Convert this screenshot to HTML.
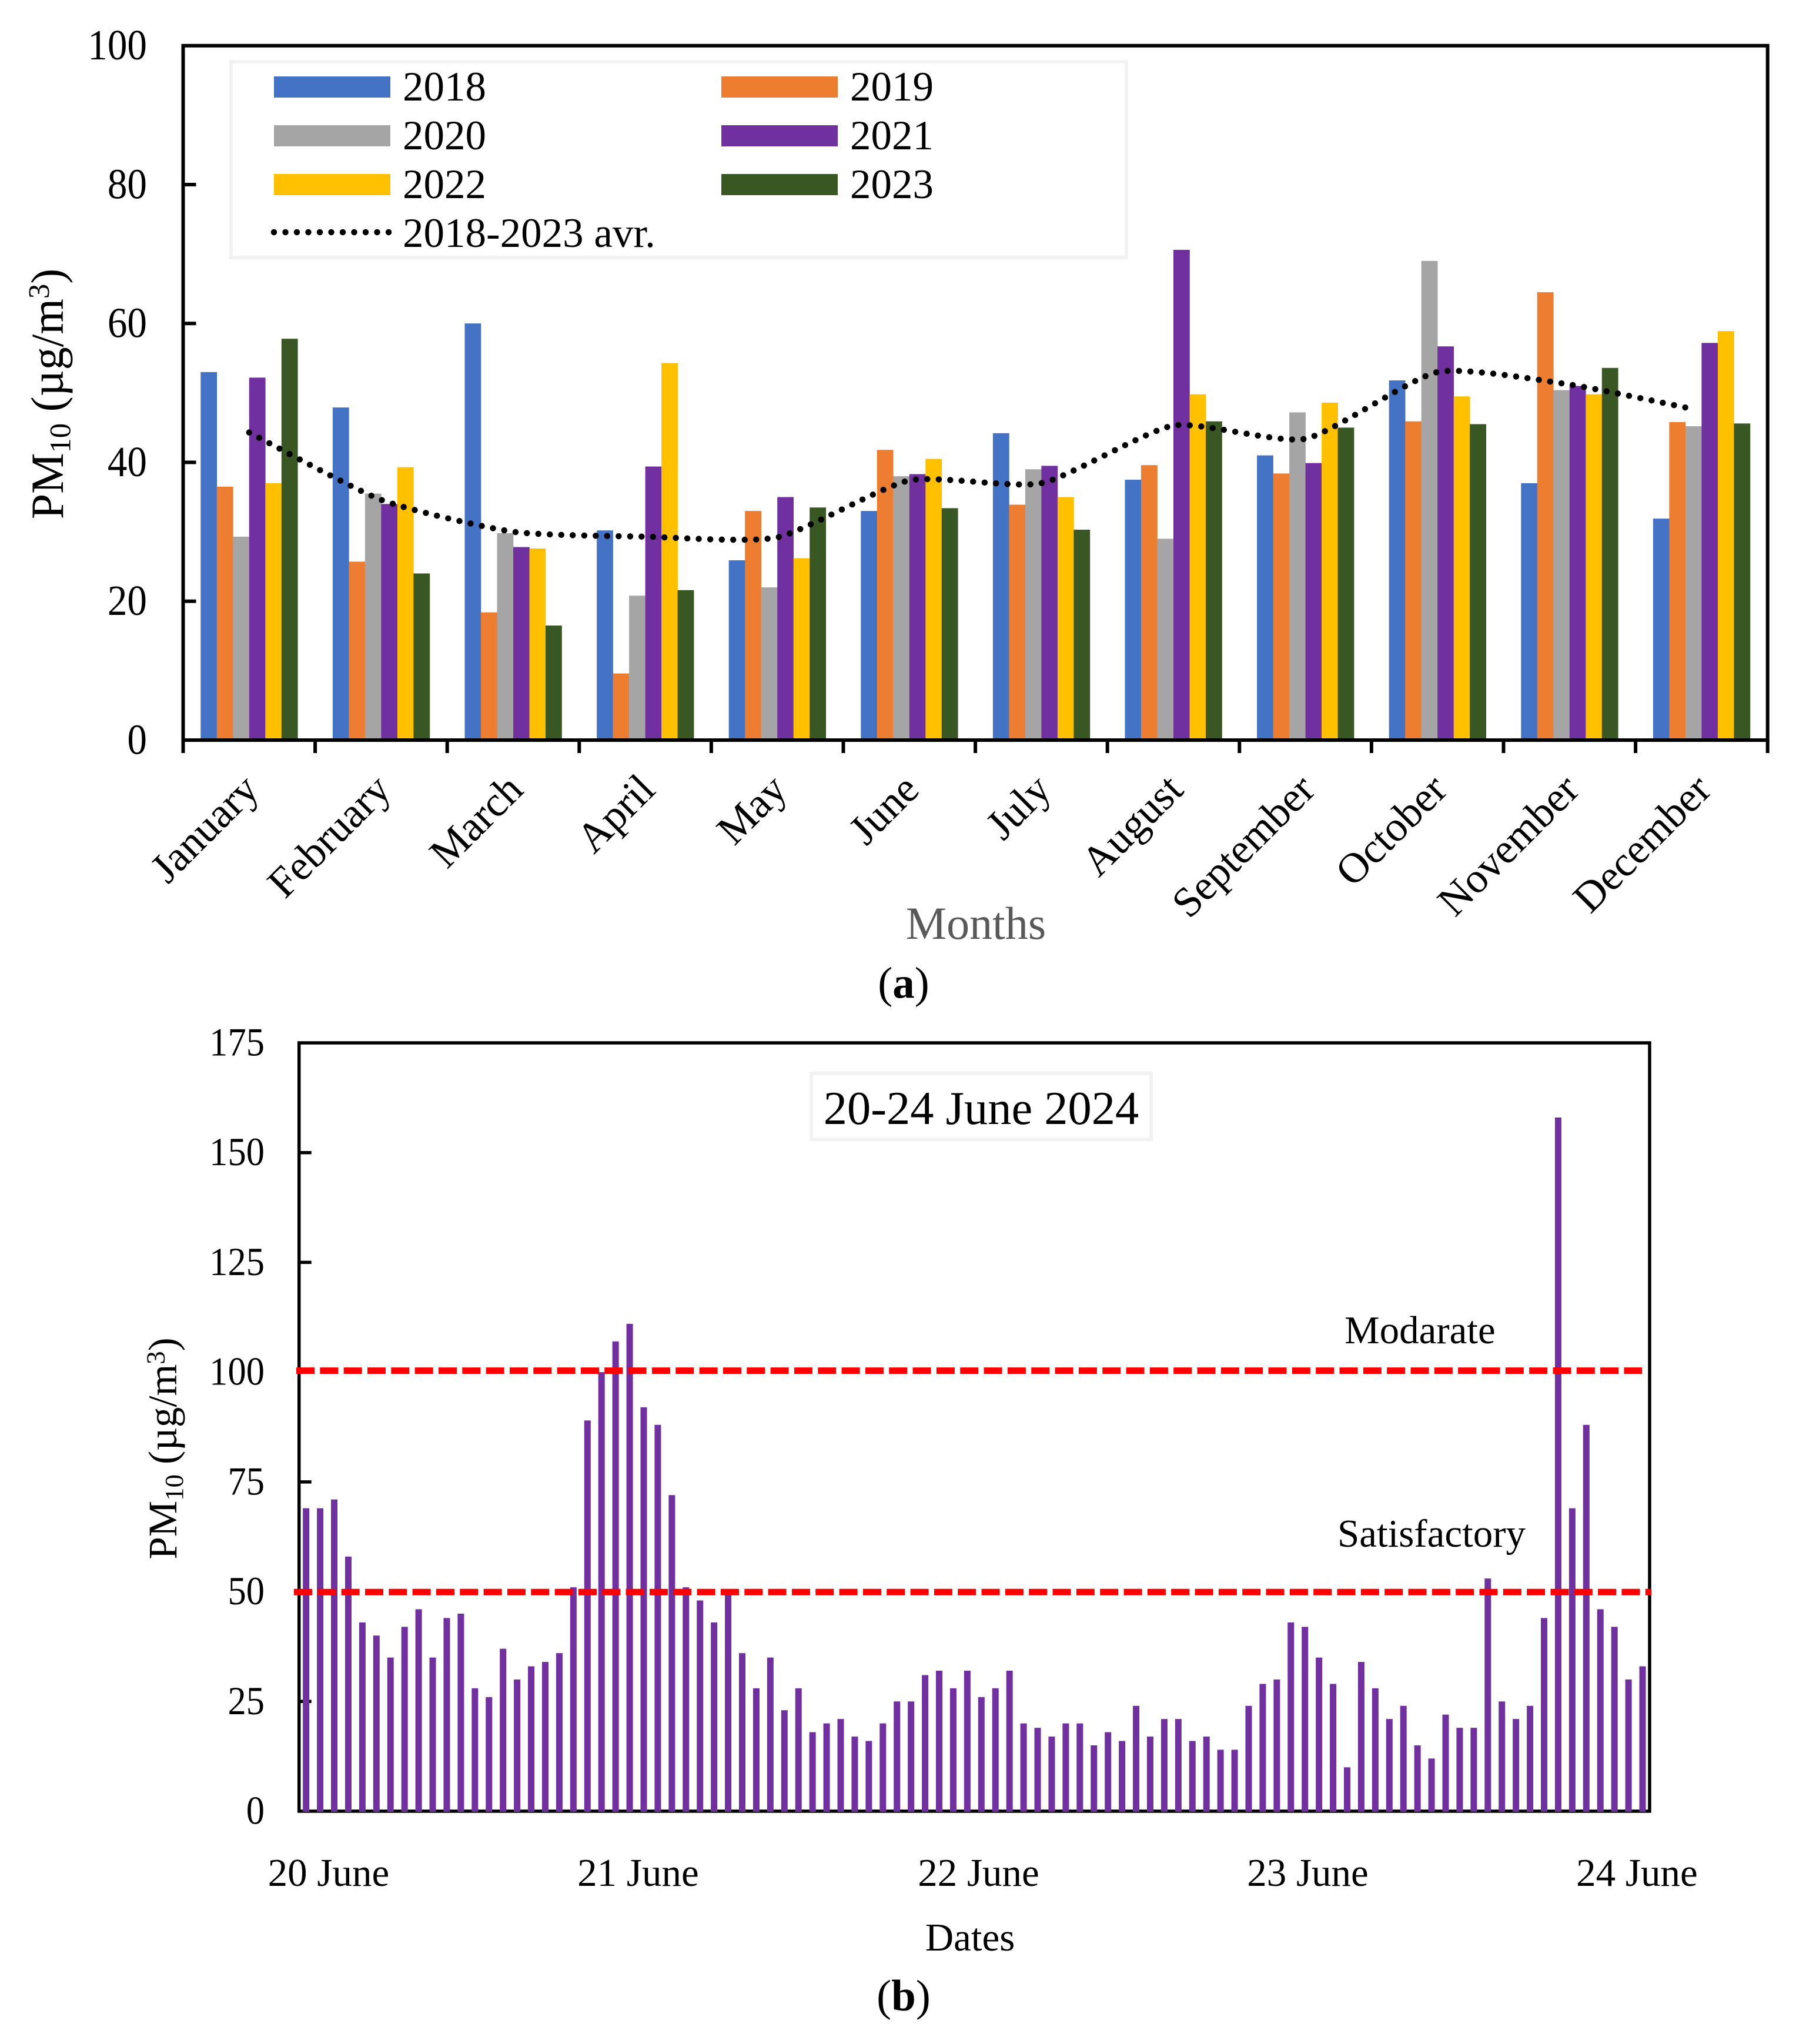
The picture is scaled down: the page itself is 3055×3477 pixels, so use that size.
<!DOCTYPE html>
<html lang="en">
<head>
<meta charset="utf-8">
<title>PM10 monthly averages and 20-24 June 2024 hourly values</title>
<style>
html,body{margin:0;padding:0;background:#fff;width:3055px;height:3477px;overflow:hidden}
svg{display:block}
text{font-family:"Liberation Serif","Times New Roman",serif;fill:#000}
</style>
</head>
<body>
<svg id="figure" xmlns="http://www.w3.org/2000/svg" width="3055" height="3477" viewBox="0 0 3055 3477">
  <rect x="0" y="0" width="3055" height="3477" fill="#fff"/>
  <g id="chartA"></g>
  <g id="chartB"></g>
</svg>
<script>
// ---------- Chart (a) data ----------
const months = ["January","February","March","April","May","June","July","August","September","October","November","December"];
const yearNames = ["2018","2019","2020","2021","2022","2023"];
const values2018 = [53,47.9,60,30.2,25.9,33,44.2,37.5,41,51.8,37,31.9];
const values2019 = [36.5,25.7,18.4,9.6,33,41.8,33.9,39.6,38.4,45.9,64.5,45.8];
const values2020 = [29.3,35.5,29.8,20.8,22,38,39,29,47.2,69,50.4,45.2];
const values2021 = [52.2,34,27.8,39.4,35,38.3,39.5,70.6,39.9,56.7,51,57.2];
const values2022 = [37,39.3,27.6,54.3,26.2,40.5,35,49.8,48.6,49.5,49.8,58.9];
const values2023 = [57.8,24,16.5,21.6,33.5,33.4,30.3,45.9,45,45.5,53.6,45.6];
const averageValues = [44.3,34.6,30,29.3,29.2,37.4,37,45.3,43.4,53,51.2,47.7];
const monthlyTicks = [0,20,40,60,80,100];

// ---------- Chart (b) data ----------
const hourlyValues = [
  69,69,71,58,43,40,35,42,46,35,
  44,45,28,26,37,30,33,34,36,51,
  89,100,107,111,92,88,72,51,48,43,
  50,36,28,35,23,28,18,20,21,17,
  16,20,25,25,31,32,28,32,26,28,
  32,20,19,17,20,20,15,18,16,24,
  17,21,21,16,17,14,14,24,29,30,
  43,42,35,29,10,34,28,21,24,15,
  12,22,19,19,53,25,21,24,44,158,
  69,88,46,42,30,33
];
const hourlyTicks = [0,25,50,75,100,125,150,175];
const dateLabels = ["20 June","21 June","22 June","23 June","24 June"];
const dateLabelHours = [1.6,23.6,47.8,71.2,94.6];
const limitValues = [100,50];
const limitNames = ["Modarate","Satisfactory"];

// ---------- helpers ----------
const NS = "http://www.w3.org/2000/svg";
function make(tag, parent, attrs, txt) {
  const el = document.createElementNS(NS, tag);
  for (const k in attrs) el.setAttribute(k, attrs[k]);
  if (txt !== undefined) el.textContent = txt;
  parent.appendChild(el);
  return el;
}
function slug(s) { return String(s).toLowerCase().replace(/[^a-z0-9]+/g, "-"); }

// ---------- Chart (a) ----------
const A = document.getElementById("chartA");
const aL = 311.5, aR = 3006.7, aT = 77.7, aB = 1259, aMax = 100;
const ax = i => aL + (aR - aL) * i / months.length;
const ay = v => aB - (aB - aT) * v / aMax;
const barW = 27.5;
const colors = ["#4472C4","#ED7D31","#A5A5A5","#7030A0","#FFC000","#385723"];
const allYears = [values2018, values2019, values2020, values2021, values2022, values2023];

allYears.forEach((series, s) => {
  series.forEach((v, m) => {
    const groupStart = ax(m + 0.5) - barW * allYears.length / 2;
    const bar = make("rect", A, {x: groupStart + s * barW, y: ay(v), width: barW + 0.3, height: ay(0) - ay(v), fill: colors[s]});
    
    
  });
});

// plot frame
const frameA = make("rect", A, {x: aL, y: aT, width: aR - aL, height: aB - aT, fill: "none", stroke: "#000", "stroke-width": 6});



monthlyTicks.forEach(t => {
  if (t !== 0 && t !== aMax) {
    const tk = make("line", A, {x1: aL, x2: aL + 22, y1: ay(t), y2: ay(t), stroke: "#000", "stroke-width": 6});
    
    
  }
  const lb = make("text", A, {x: 0, y: 0, "text-anchor": "end", "font-size": 73, transform: "translate(250 " + (ay(t) + 23.5) + ") scale(0.92 1)"}, t);
  
  
});

for (let i = 0; i <= months.length; i++) {
  const tk = make("line", A, {x1: ax(i), x2: ax(i), y1: aB, y2: aB + 22, stroke: "#000", "stroke-width": 6});
  
  
}
months.forEach((name, i) => {
  const px = ax(i + 0.5) + 20, py = 1347;
  const lb = make("text", A, {x: px, y: py, "text-anchor": "end", "font-size": 72, transform: "rotate(-45 " + px + " " + py + ")"}, name);
  
  
});

// smoothed average line (the reference has very little overshoot, so tangents are short)
function smoothPath(pts) {
  const k = 10;
  let d = "M" + pts[0][0] + " " + pts[0][1];
  for (let i = 0; i < pts.length - 1; i++) {
    const p0 = pts[Math.max(i - 1, 0)], p1 = pts[i], p2 = pts[i + 1], p3 = pts[Math.min(i + 2, pts.length - 1)];
    const c1x = p1[0] + (p2[0] - p0[0]) / k, c1y = p1[1] + (p2[1] - p0[1]) / k;
    const c2x = p2[0] - (p3[0] - p1[0]) / k, c2y = p2[1] - (p3[1] - p1[1]) / k;
    d += "C" + c1x + " " + c1y + " " + c2x + " " + c2y + " " + p2[0] + " " + p2[1];
  }
  return d;
}
const lineEndTrim = 16;
const avgPoints = averageValues.map((v, i) => [ax(i + 0.5) - (i === averageValues.length - 1 ? lineEndTrim : 0), ay(v)]);
const avgLine = make("path", A, {d: smoothPath(avgPoints), fill: "none", stroke: "#000", "stroke-width": 10.5, "stroke-linecap": "round", "stroke-dasharray": "0 19.5"});



// legend
const legendBox = make("rect", A, {x: 393, y: 105, width: 1523, height: 333, fill: "#fff", stroke: "#f2f2f2", "stroke-width": 6});


const legendSwatchY = [130, 213, 296];
const legendBaseY = [171, 254, 337];
yearNames.forEach((yr, i) => {
  const col = i % 2, row = Math.floor(i / 2);
  const sx = col === 0 ? 466 : 1227;
  const sw = make("rect", A, {x: sx, y: legendSwatchY[row], width: 198, height: 36, fill: colors[i]});
  
  
  const tx = make("text", A, {x: sx + 219, y: legendBaseY[row], "font-size": 71}, yr);
  
  
});
const legendLine = make("line", A, {x1: 466, x2: 664, y1: 395, y2: 395, stroke: "#000", "stroke-width": 10.5, "stroke-linecap": "round", "stroke-dasharray": "0 19.5"});


const legendAvgText = make("text", A, {x: 685, y: 420, "font-size": 71}, "2018-2023 avr.");



// axis titles (a)
function yTitle(parent, bx, cy, size) {
  const t = make("text", parent, {x: bx, y: cy, "text-anchor": "middle", "font-size": size, transform: "rotate(-90 " + bx + " " + cy + ")"});
  make("tspan", t, {}, "PM");
  make("tspan", t, {dy: size * 0.16, "font-size": size * 0.65}, "10");
  make("tspan", t, {dy: -size * 0.16}, " (µg/m");
  make("tspan", t, {dy: -size * 0.3, "font-size": size * 0.65}, "3");
  make("tspan", t, {dy: size * 0.3}, ")");
  return t;
}
const titleA = yTitle(A, 107, 670, 78);


const monthsTitle = make("text", A, {x: 1660, y: 1597, "text-anchor": "middle", "font-size": 78}, "Months");
monthsTitle.style.fill = "#595959";


const capA = make("text", A, {x: 1537, y: 1697, "text-anchor": "middle", "font-size": 75});
make("tspan", capA, {}, "(");
make("tspan", capA, {"font-weight": "bold"}, "a");
make("tspan", capA, {}, ")");



// ---------- Chart (b) ----------
const B = document.getElementById("chartB");
const bL = 508.7, bR = 2806, bT = 1774, bB = 3081, bMax = 175;
const bx = i => bL + (bR - bL) * i / hourlyValues.length;
const by = v => bB - (bB - bT) * v / bMax;

const frameB = make("rect", B, {x: bL, y: bT, width: bR - bL, height: bB - bT, fill: "none", stroke: "#000", "stroke-width": 5.5});



hourlyTicks.forEach(t => {
  if (t !== 0 && t !== bMax) {
    const tk = make("line", B, {x1: bL, x2: bL + 21, y1: by(t), y2: by(t), stroke: "#000", "stroke-width": 5.5});
    
    
  }
  const lb = make("text", B, {x: 0, y: 0, "text-anchor": "end", "font-size": 68, transform: "translate(450 " + (by(t) + 21.5) + ") scale(0.92 1)"}, t);
  
  
});

hourlyValues.forEach((v, i) => {
  const bar = make("rect", B, {x: bx(i + 0.5) - 5.5, y: by(v), width: 11, height: by(0) - by(v) + 1, fill: "#7030A0"});
  
  
});

const limitLineStart = [504, 500];
const limitLineEnd = [2793, 2809];
const limitLineNudge = [-2.5, 0.7];
limitValues.forEach((v, i) => {
  const ln = make("line", B, {x1: limitLineStart[i], x2: limitLineEnd[i], y1: by(v) + limitLineNudge[i], y2: by(v) + limitLineNudge[i], stroke: "#FF0000", "stroke-width": 11, "stroke-dasharray": "31 9.33"});
  
  
});
const limitLabelX = [2287, 2275];
const limitLabelY = [2285, 2631];
limitNames.forEach((n, i) => {
  const tx = make("text", B, {x: limitLabelX[i], y: limitLabelY[i], "font-size": 67}, n);
  
  
});

dateLabels.forEach((d, i) => {
  const tx = make("text", B, {x: bx(dateLabelHours[i] + 0.5), y: 3208, "text-anchor": "middle", "font-size": 67}, d);
  
  
});

const titleBox = make("rect", B, {x: 1380, y: 1826, width: 578, height: 112.5, fill: "#fff", stroke: "#f2f2f2", "stroke-width": 6});


const titleText = make("text", B, {x: 1669, y: 1912, "text-anchor": "middle", "font-size": 80.5}, "20-24 June 2024");



const titleB = yTitle(B, 300, 2464, 69);


const datesTitle = make("text", B, {x: 1650, y: 3318, "text-anchor": "middle", "font-size": 67}, "Dates");


const capB = make("text", B, {x: 1537, y: 3420, "text-anchor": "middle", "font-size": 75});
make("tspan", capB, {}, "(");
make("tspan", capB, {"font-weight": "bold"}, "b");
make("tspan", capB, {}, ")");


</script>
</body>
</html>
